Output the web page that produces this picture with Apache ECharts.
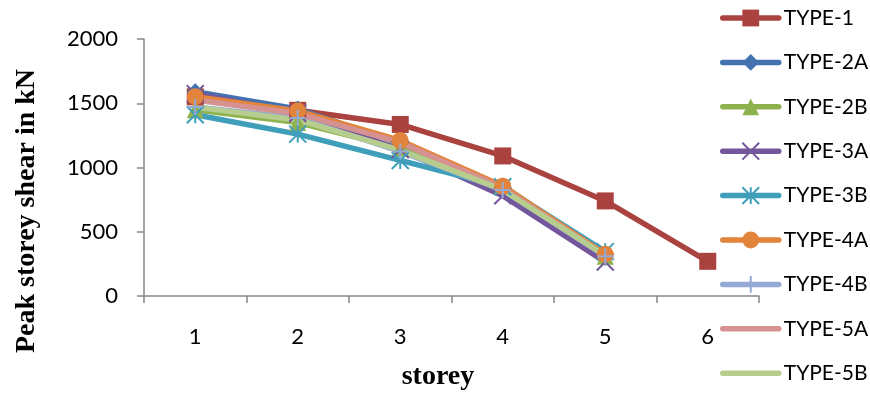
<!DOCTYPE html>
<html>
<head>
<meta charset="utf-8">
<script src="https://cdn.jsdelivr.net/npm/echarts@6/dist/echarts.min.js"></script>
<style>
  html, body { margin: 0; padding: 0; background: #fff; }
  #chart { width: 870px; height: 395px; }
</style>
</head>
<body>
<div id="chart"></div>
<script>
// Storey numbers along the x axis
const storeys = ['1', '2', '3', '4', '5', '6'];
const yTicks = [0, 500, 1000, 1500, 2000];

// Peak storey shear (kN) per building type
const type1  = [1550, 1445, 1335, 1090, 740, 270];
const type2A = [1590, 1455, 1190, 850, 300];
const type2B = [1450, 1350, 1150, 860, 310];
const type3A = [1575, 1420, 1140, 780, 265];
const type3B = [1410, 1260, 1055, 850, 345];
const type4A = [1550, 1440, 1210, 855, 325];
const type4B = [1470, 1385, 1125, 825, 310];
const type5A = [1525, 1420, 1195, 840, 315];
const type5B = [1470, 1370, 1135, 825, 315];

const SYM_X = 'path://M0,0L10,10M10,0L0,10';
const SYM_STAR = 'path://M5,0L5,10M0,0L10,10M10,0L0,10';
const SYM_PLUS = 'path://M5,0L5,10M0,5L10,5';

const LINE_W = 5.5;

function lineSeries(name, data, color, symbol, size, stroked) {
  return {
    name: name,
    type: 'line',
    data: data,
    symbol: symbol,
    symbolSize: size,
    showAllSymbol: true,
    lineStyle: { color: color, width: LINE_W, cap: 'round', join: 'round' },
    itemStyle: stroked
      ? { color: color, borderColor: color, borderWidth: 2 }
      : { color: color, borderColor: color, borderWidth: 0 },
    emphasis: { disabled: true }
  };
}

const chart = echarts.init(document.getElementById('chart'), null, { renderer: 'canvas' });

const labelFont = 'Lato, "Liberation Sans", sans-serif';
const titleFont = '"Liberation Serif", "Times New Roman", serif';

const legendNames = ['TYPE-1', 'TYPE-2A', 'TYPE-2B', 'TYPE-3A', 'TYPE-3B', 'TYPE-4A', 'TYPE-4B', 'TYPE-5A', 'TYPE-5B'];
const noMarker = ['TYPE-5A', 'TYPE-5B'];

chart.setOption({
  animation: false,
  backgroundColor: '#ffffff',
  grid: { left: 144, right: 111, top: 39, bottom: 99, containLabel: false },
  xAxis: {
    type: 'category',
    data: storeys,
    boundaryGap: true,
    axisLine: { show: true, lineStyle: { color: '#868686', width: 1.5 } },
    axisTick: { show: true, inside: false, length: 7, lineStyle: { color: '#868686', width: 1.5 } },
    axisLabel: { margin: 30, color: '#000', fontFamily: labelFont, fontSize: 22 },
    splitLine: { show: false }
  },
  yAxis: {
    type: 'value',
    min: yTicks[0],
    max: yTicks[yTicks.length - 1],
    interval: yTicks[1] - yTicks[0],
    axisLine: { show: true, lineStyle: { color: '#868686', width: 1.5 } },
    axisTick: { show: true, inside: false, length: 7, lineStyle: { color: '#868686', width: 1.5 } },
    axisLabel: {
      margin: 26, color: '#000', fontFamily: labelFont, fontSize: 22,
      formatter: function (v) { return String(v); }
    },
    splitLine: { show: false }
  },
  legend: {
    orient: 'vertical',
    left: 720,
    top: 7,
    padding: 0,
    itemWidth: 56,
    itemHeight: 21,
    itemGap: 22.4,
    itemTextGap: 5,
    lineStyle: { width: LINE_W, cap: 'round' },
    data: legendNames.map(function (n) {
      return noMarker.indexOf(n) >= 0 ? { name: n, itemStyle: { opacity: 0 } } : { name: n };
    }),
    textStyle: { color: '#000', fontFamily: labelFont, fontSize: 21, lineHeight: 22 },
    selectedMode: false
  },
  graphic: [
    {
      type: 'text',
      x: 27,
      y: 211,
      rotation: Math.PI / 2,
      style: {
        text: 'Peak storey shear in kN',
        fontFamily: titleFont,
        fontWeight: 'bold',
        fontSize: 28,
        fill: '#000',
        align: 'center',
        verticalAlign: 'middle'
      }
    },
    {
      type: 'text',
      x: 438,
      y: 377,
      style: {
        text: 'storey',
        fontFamily: titleFont,
        fontWeight: 'bold',
        fontSize: 28,
        fill: '#000',
        align: 'center',
        verticalAlign: 'middle'
      }
    }
  ],
  series: [
    lineSeries('TYPE-1',  type1,  '#AA4340', 'rect', 17, false),
    lineSeries('TYPE-2A', type2A, '#4472B0', 'diamond', 17, false),
    lineSeries('TYPE-2B', type2B, '#8EB24E', 'triangle', 17, false),
    lineSeries('TYPE-3A', type3A, '#73569B', SYM_X, 17, true),
    lineSeries('TYPE-3B', type3B, '#3F9FBB', SYM_STAR, 17, true),
    lineSeries('TYPE-4A', type4A, '#E2843C', 'circle', 17, false),
    lineSeries('TYPE-4B', type4B, '#94AAD4', SYM_PLUS, 16, true),
    lineSeries('TYPE-5A', type5A, '#D59291', 'none', 17, false),
    lineSeries('TYPE-5B', type5B, '#B6CD8E', 'none', 17, false)
  ]
});
</script>
</body>
</html>
